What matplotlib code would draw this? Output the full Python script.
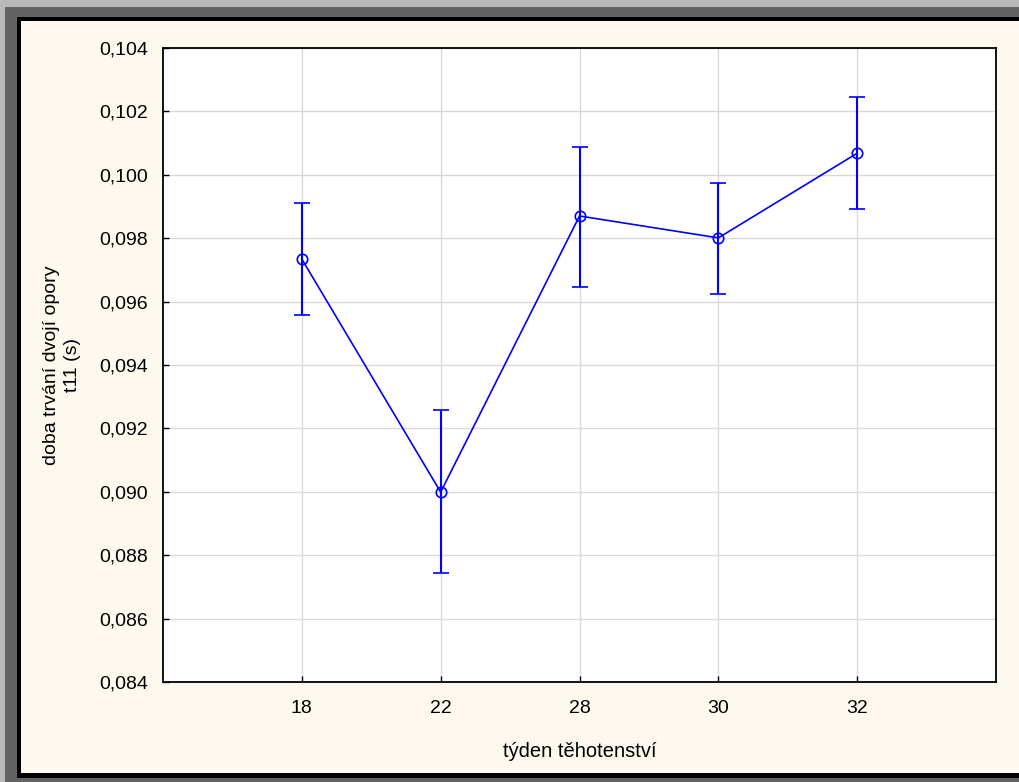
import matplotlib
matplotlib.use("Agg")
import matplotlib.pyplot as plt
from matplotlib.patches import Rectangle
from matplotlib.ticker import FuncFormatter, MultipleLocator

plt.rcParams['font.family'] = ['Liberation Sans', 'DejaVu Sans']

categories = ["18", "22", "28", "30", "32"]
means = [0.09734, 0.08999, 0.09870, 0.09801, 0.10068]
upper = [0.09911, 0.09257, 0.10088, 0.09974, 0.10245]
lower = [0.09558, 0.08745, 0.09646, 0.09624, 0.09891]
xlabel = "týden těhotenství"
ylabel = "doba trvání dvojí opory\nt11 (s)"

W, H = 1019, 782
fig = plt.figure(figsize=(W / 100, H / 100), dpi=100)
fig.patch.set_facecolor('#b8b8b8')

def px_rect(x0, y0, x1, y1, color):
    fig.patches.append(Rectangle((x0 / W, 1 - y1 / H), (x1 - x0) / W, (y1 - y0) / H,
                                 transform=fig.transFigure, facecolor=color,
                                 edgecolor='none', zorder=-10))

px_rect(5, 7, W + 5, H + 5, '#636363')
px_rect(16.5, 17.3, W + 5, 777.7, '#000000')
px_rect(20.7, 21, W + 5, 772.7, '#fdf9ef')

left, top, right, bottom = 163, 48, 996, 682
ax = fig.add_axes([left / W, 1 - bottom / H, (right - left) / W, (bottom - top) / H])
ax.set_facecolor('white')

x = list(range(len(categories)))
yerr = [[m - l for m, l in zip(means, lower)], [u - m for m, u in zip(means, upper)]]
ax.errorbar(x, means, yerr=yerr, color='#0000ff', lw=1.2, elinewidth=1.5,
            capsize=5.5, capthick=1.5, marker='o', markersize=7.5,
            markerfacecolor='none', markeredgecolor='#0000ff', markeredgewidth=1.2, zorder=3)

ax.set_xlim(-1, len(categories))
ax.set_ylim(0.084, 0.104)
ax.set_xticks(x)
ax.set_xticklabels(categories)
ax.yaxis.set_major_locator(MultipleLocator(0.002))
ax.yaxis.set_major_formatter(FuncFormatter(lambda v, p: f"{v:.3f}".replace('.', ',')))
ax.grid(True, color='#d9d9d9', lw=1)
ax.set_axisbelow(True)
ax.tick_params(direction='in', length=4, width=1, labelsize=14, colors='black')
ax.tick_params(axis='y', pad=11)
ax.tick_params(axis='x', pad=13)
for s in ax.spines.values():
    s.set_color('black')
    s.set_linewidth(1.3)

ax.set_xlabel(xlabel, fontsize=14.5, labelpad=18)
ax.set_ylabel(ylabel, fontsize=14, labelpad=13, linespacing=1.3)

fig.savefig("out.png", dpi=100, facecolor=fig.get_facecolor())
